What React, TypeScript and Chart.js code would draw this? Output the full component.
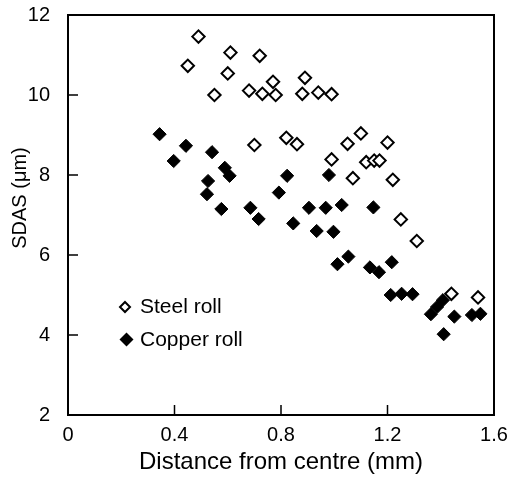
import React, { useEffect, useRef } from "react";
import { Chart, registerables } from "chart.js";

Chart.register(...registerables);

// Secondary dendrite arm spacing against distance from the strip centre
const steelX = [0.45, 0.49, 0.55, 0.6, 0.61, 0.68, 0.7, 0.72, 0.73, 0.77, 0.78, 0.82, 0.86, 0.88, 0.89, 0.94, 0.99, 0.99, 1.05, 1.07, 1.1, 1.12, 1.15, 1.17, 1.2, 1.22, 1.25, 1.31, 1.44, 1.54];
const steelY = [10.73, 11.46, 10.0, 10.54, 11.06, 10.11, 8.75, 10.98, 10.03, 10.33, 10.0, 8.93, 8.77, 10.03, 10.43, 10.06, 8.39, 10.02, 8.78, 7.92, 9.04, 8.32, 8.36, 8.36, 8.81, 7.88, 6.89, 6.35, 5.03, 4.94];

const copperX = [0.344, 0.397, 0.443, 0.522, 0.526, 0.541, 0.576, 0.589, 0.607, 0.685, 0.716, 0.792, 0.823, 0.846, 0.905, 0.934, 0.968, 0.98, 0.997, 1.012, 1.028, 1.053, 1.134, 1.147, 1.168, 1.212, 1.216, 1.253, 1.294, 1.363, 1.386, 1.408, 1.411, 1.451, 1.517, 1.549];
const copperY = [9.02, 8.35, 8.73, 7.52, 7.85, 8.57, 7.15, 8.18, 7.98, 7.18, 6.9, 7.56, 7.98, 6.79, 7.18, 6.6, 7.18, 8.0, 6.58, 5.77, 7.25, 5.96, 5.69, 7.19, 5.57, 5.0, 5.82, 5.03, 5.02, 4.52, 4.7, 4.87, 4.02, 4.46, 4.5, 4.53];

const seriesLabels = ["Steel roll", "Copper roll"];
const xTicks = [0, 0.4, 0.8, 1.2, 1.6];
const yTicks = [2, 4, 6, 8, 10, 12];
const xTitle = "Distance from centre (mm)";
const yTitle = "SDAS (\u03bcm)";

const FONT = "'Liberation Sans', Arial, Helvetica, sans-serif";

const toPoints = (xs: number[], ys: number[]) => xs.map((x, i) => ({ x, y: ys[i] }));

// Box frame and inward tick marks
const framePlugin = {
  id: "frame",
  afterDraw(chart: any) {
    const { ctx, chartArea: a, scales } = chart;
    ctx.save();
    ctx.strokeStyle = "#000";
    ctx.lineWidth = 2;
    ctx.strokeRect(a.left, a.top, a.right - a.left, a.bottom - a.top);
    ctx.lineWidth = 1.5;
    ctx.beginPath();
    for (const t of scales.y.ticks) {
      const py = scales.y.getPixelForValue(t.value);
      ctx.moveTo(a.left, py);
      ctx.lineTo(a.left + 10, py);
    }
    for (const t of scales.x.ticks) {
      const px = scales.x.getPixelForValue(t.value);
      ctx.moveTo(px, a.bottom);
      ctx.lineTo(px, a.bottom - 10);
    }
    ctx.stroke();
    ctx.restore();
  },
};

// Rotated y title and the key inside the plot
const keyPlugin = {
  id: "key",
  afterDraw(chart: any) {
    const { ctx } = chart;
    ctx.save();
    ctx.fillStyle = "#000";
    ctx.font = `20px ${FONT}`;
    ctx.textAlign = "center";
    ctx.textBaseline = "middle";
    ctx.save();
    ctx.translate(20, 198);
    ctx.rotate(-Math.PI / 2);
    ctx.fillText(yTitle, 0, 0);
    ctx.restore();

    const keys = [
      { cx: 125, cy: 307, r: 5, filled: false },
      { cx: 126.5, cy: 339.5, r: 7, filled: true },
    ];
    ctx.font = `21px ${FONT}`;
    ctx.textAlign = "left";
    keys.forEach((k, i) => {
      ctx.beginPath();
      ctx.moveTo(k.cx, k.cy - k.r);
      ctx.lineTo(k.cx + k.r, k.cy);
      ctx.lineTo(k.cx, k.cy + k.r);
      ctx.lineTo(k.cx - k.r, k.cy);
      ctx.closePath();
      if (k.filled) {
        ctx.fillStyle = "#000";
        ctx.fill();
      } else {
        ctx.lineWidth = 2;
        ctx.strokeStyle = "#000";
        ctx.stroke();
      }
      ctx.fillStyle = "#000";
      ctx.fillText(chart.data.datasets[i].label, 140, k.cy + 0.5);
    });
    ctx.restore();
  },
};

export default function App() {
  const canvasRef = useRef<HTMLCanvasElement | null>(null);

  useEffect(() => {
    if (!canvasRef.current) return;
    const chart = new Chart(canvasRef.current, {
      type: "scatter",
      data: {
        datasets: [
          {
            label: seriesLabels[0],
            data: toPoints(steelX, steelY),
            pointStyle: "rectRot",
            pointRadius: 6.2,
            pointBorderWidth: 2,
            borderColor: "#000",
            backgroundColor: "#fff",
          },
          {
            label: seriesLabels[1],
            data: toPoints(copperX, copperY),
            pointStyle: "rectRot",
            pointRadius: 6.6,
            pointBorderWidth: 1,
            borderColor: "#000",
            backgroundColor: "#000",
          },
        ],
      },
      options: {
        responsive: false,
        animation: false,
        layout: { padding: { top: 15, right: 16, left: 0, bottom: 0 } },
        plugins: {
          legend: { display: false },
          tooltip: { enabled: false },
        },
        scales: {
          x: {
            type: "linear",
            min: 0,
            max: 1.6,
            afterBuildTicks: (scale: any) => {
              scale.ticks = xTicks.map((v) => ({ value: v }));
            },
            ticks: {
              color: "#000",
              font: { family: FONT, size: 20 },
              padding: 0,
              maxRotation: 0,
              callback: (v: any) => String(Number(v)),
            },
            grid: { display: false },
            border: { display: false },
            title: {
              display: true,
              text: xTitle,
              color: "#000",
              font: { family: FONT, size: 24 },
              padding: { top: 2, bottom: 0 },
            },
            afterFit: (scale: any) => {
              scale.height = 62;
              scale.paddingLeft = 0;
              scale.paddingRight = 0;
            },
          },
          y: {
            type: "linear",
            min: 2,
            max: 12,
            afterBuildTicks: (scale: any) => {
              scale.ticks = yTicks.map((v) => ({ value: v }));
            },
            ticks: {
              color: "#000",
              font: { family: FONT, size: 20 },
              padding: 10,
            },
            grid: { display: false },
            border: { display: false },
            afterFit: (scale: any) => {
              scale.width = 68;
              scale.paddingTop = 0;
              scale.paddingBottom = 0;
            },
          },
        },
      },
      plugins: [framePlugin, keyPlugin],
    });
    return () => chart.destroy();
  }, []);

  return (
    <div style={{ position: "absolute", left: 0, top: 0, width: 510, height: 477, background: "#fff" }}>
      <canvas ref={canvasRef} width={510} height={477} style={{ display: "block" }} />
    </div>
  );
}
